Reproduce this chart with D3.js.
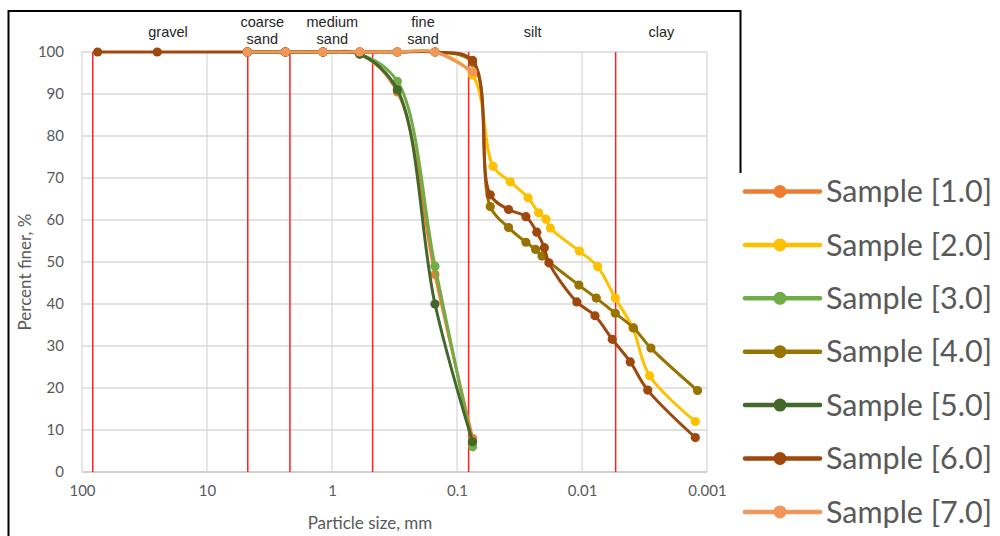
<!DOCTYPE html>
<html>
<head>
<meta charset="utf-8">
<script src="https://cdn.jsdelivr.net/npm/d3@7"></script>
<style>
  body { margin: 0; background: #fff; }
  svg { display: block; }
</style>
</head>
<body>
<div id="chart"></div>
<script>
// Particle sizes (mm)
const coarseMm = [75, 25];
const sieveMm = [4.75, 2.36, 1.18, 0.6, 0.3, 0.15, 0.075];
const hydro2Mm = [0.0515, 0.0375, 0.0270, 0.0222, 0.0194, 0.0179, 0.0105, 0.0075, 0.00542, 0.00394, 0.00288, 0.00124];
const hydro4Mm = [0.0542, 0.0387, 0.0281, 0.0235, 0.0209, 0.0106, 0.00769, 0.00542, 0.00387, 0.00281, 0.00119];
const hydro6Mm = [0.0542, 0.0387, 0.0281, 0.0230, 0.0200, 0.0184, 0.0110, 0.00787, 0.00573, 0.00411, 0.00298, 0.00124];

// Percent finer per sample
const pct1 = [100, 100, 100, 99.5, 90.5, 47, 8];
const pct2 = [100, 100, 100, 100, 100, 100, 94.5, 72.8, 69.1, 65.3, 61.7, 60.2, 58.1, 52.6, 48.9, 41.4, 34.4, 22.9, 12.0];
const pct3 = [100, 100, 100, 99.5, 93, 49, 6];
const pct4 = [100, 100, 100, 100, 100, 100, 97.5, 63.2, 58.2, 54.7, 53.0, 51.4, 44.5, 41.4, 37.8, 34.3, 29.5, 19.4];
const pct5 = [100, 100, 100, 99.5, 91, 40, 7.2];
const pct6 = [100, 100, 100, 100, 100, 100, 100, 100, 98, 66.0, 62.5, 60.8, 57.1, 53.4, 49.8, 40.5, 37.2, 31.6, 26.2, 19.5, 8.2];
const pct7 = [100, 100, 100, 100, 100, 100, 95.3];

const names = ["Sample [1.0]", "Sample [2.0]", "Sample [3.0]", "Sample [4.0]", "Sample [5.0]", "Sample [6.0]", "Sample [7.0]"];
const colors = ["#ED7D31", "#FFC000", "#70AD47", "#997300", "#43682B", "#9E480E", "#F1975A"];

// soil class boundaries (mm) and zone labels
const boundaryMm = [82, 4.72, 2.17, 0.473, 0.0807, 0.00538];
const zoneNames = [["gravel"], ["coarse", "sand"], ["medium", "sand"], ["fine", "sand"], ["silt"], ["clay"]];
const zoneMm = [20.5, 3.61, 0.994, 0.187, 0.0248, 0.00232];

const xTicks = [100, 10, 1, 0.1, 0.01, 0.001];
const yTicks = d3.range(0, 101, 10);

const zip = (xs, ys) => xs.map((v, i) => [v, ys[i]]);
const series = [
  zip(sieveMm, pct1),
  zip(sieveMm.concat(hydro2Mm), pct2),
  zip(sieveMm, pct3),
  zip(sieveMm.concat(hydro4Mm), pct4),
  zip(sieveMm, pct5),
  zip(coarseMm.concat(sieveMm, hydro6Mm), pct6),
  zip(sieveMm, pct7)
];

const W = 1000, H = 536;
const pL = 82, pR = 707, pT = 52, pB = 472;

const svg = d3.select("#chart").append("svg")
  .attr("width", W)
  .attr("height", H);

const x = d3.scaleLog().domain([100, 0.001]).range([pL, pR]);
const y = d3.scaleLinear().domain([0, 100]).range([pB, pT]);

// outer frame (legend sits over the lower right part of it)
svg.append("path")
  .attr("d", `M8.5,${H} V11 H740.5 V173`)
  .attr("fill", "none")
  .attr("stroke", "#000")
  .attr("stroke-width", 2);

// grid
svg.append("g")
  .selectAll("line")
  .data(yTicks)
  .join("line")
  .attr("x1", pL).attr("x2", pR)
  .attr("y1", d => y(d)).attr("y2", d => y(d))
  .attr("stroke", d => d === 0 ? "#bfbfbf" : "#d9d9d9")
  .attr("stroke-width", 1.3);

svg.append("g")
  .selectAll("line")
  .data(xTicks)
  .join("line")
  .attr("x1", d => x(d)).attr("x2", d => x(d))
  .attr("y1", pT).attr("y2", pB)
  .attr("stroke", "#d9d9d9")
  .attr("stroke-width", 1.3);

// axes
const yAxis = svg.append("g")
  .attr("transform", `translate(${pL},0)`)
  .call(d3.axisLeft(y).tickValues(yTicks).tickSize(0).tickPadding(18));
const xAxis = svg.append("g")
  .attr("transform", `translate(0,${pB})`)
  .call(d3.axisBottom(x).tickValues(xTicks).tickFormat(d => String(d)).tickSize(0).tickPadding(13));
[yAxis, xAxis].forEach(g => {
  g.select(".domain").remove();
  g.selectAll("text")
    .attr("fill", "#595959")
    .style("font-family", "Lato, 'Noto Sans', sans-serif")
    .style("font-size", "15px");
});

svg.append("text")
  .attr("x", 370)
  .attr("y", 529)
  .attr("text-anchor", "middle")
  .attr("fill", "#595959")
  .style("font-family", "Lato, 'Noto Sans', sans-serif")
  .style("font-size", "17px")
  .text("Particle size, mm");

svg.append("text")
  .attr("transform", "translate(31,272) rotate(-90)")
  .attr("text-anchor", "middle")
  .attr("fill", "#595959")
  .style("font-family", "Lato, 'Noto Sans', sans-serif")
  .style("font-size", "17px")
  .text("Percent finer, %");

// class boundaries
svg.append("g")
  .selectAll("line")
  .data(boundaryMm)
  .join("line")
  .attr("x1", d => x(d)).attr("x2", d => x(d))
  .attr("y1", pT).attr("y2", pB)
  .attr("stroke", "#ff2020")
  .attr("stroke-width", 1.5);

svg.append("g")
  .selectAll("text")
  .data(zoneNames)
  .join("text")
  .attr("x", (d, i) => x(zoneMm[i]))
  .attr("y", d => d.length === 1 ? 37 : 27)
  .attr("text-anchor", "middle")
  .attr("fill", "#262626")
  .style("font-family", "'Liberation Sans', Arial, sans-serif")
  .style("font-size", "14.5px")
  .selectAll("tspan")
  .data(d => d)
  .join("tspan")
  .attr("x", function () { return this.parentNode.getAttribute("x"); })
  .attr("dy", (d, i) => i === 0 ? 0 : 17)
  .text(d => d);

// curves
const line = d3.line()
  .x(d => x(d[0]))
  .y(d => y(d[1]))
  .curve(d3.curveCatmullRom.alpha(0.5));

const sg = svg.append("g")
  .selectAll("g")
  .data(series)
  .join("g");

sg.append("path")
  .attr("d", line)
  .attr("fill", "none")
  .attr("stroke", (d, i) => colors[i])
  .attr("stroke-width", 3)
  .attr("stroke-linejoin", "round");

sg.selectAll("circle")
  .data((d, i) => d.map(p => ({p, c: colors[i]})))
  .join("circle")
  .attr("cx", d => x(d.p[0]))
  .attr("cy", d => y(d.p[1]))
  .attr("r", 4.6)
  .attr("fill", d => d.c);

// legend
const lg = svg.append("g")
  .selectAll("g")
  .data(names)
  .join("g")
  .attr("transform", (d, i) => `translate(745,${191.5 + i * 53.4})`);

lg.append("line")
  .attr("x1", 0).attr("x2", 75)
  .attr("stroke", (d, i) => colors[i])
  .attr("stroke-width", 4.5)
  .attr("stroke-linecap", "round");

lg.append("circle")
  .attr("cx", 35)
  .attr("r", 6.5)
  .attr("fill", (d, i) => colors[i]);

lg.append("text")
  .attr("x", 81)
  .attr("dy", "0.35em")
  .attr("fill", "#595959")
  .style("font-family", "Lato, 'Noto Sans', sans-serif")
  .style("font-size", "30.5px")
  .text(d => d);
</script>
</body>
</html>
